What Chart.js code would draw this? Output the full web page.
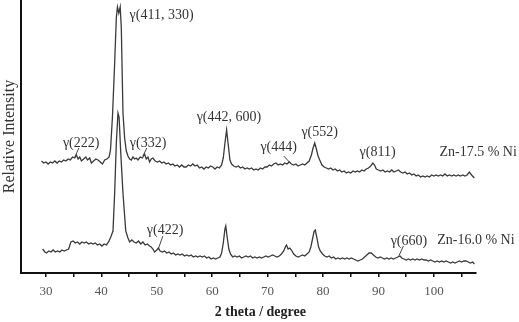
<!DOCTYPE html>
<html><head><meta charset="utf-8">
<script src="https://cdn.jsdelivr.net/npm/chart.js@4/dist/chart.umd.min.js"></script>
<style>html,body{margin:0;padding:0;background:#fff}canvas{display:block}</style>
</head><body>
<canvas id="c" width="519" height="322"></canvas>
<script>
// Upper pattern: Zn-17.5 % Ni
const upperTheta = [29.2,29.6,30.0,30.4,30.8,31.2,31.6,32.0,32.4,32.8,33.2,33.6,34.0,34.4,34.8,35.2,35.5,35.8,36.1,36.4,36.8,37.2,37.5,37.9,38.2,38.6,39.0,39.4,39.8,40.2,40.6,41.0,41.4,41.65,42.0,42.4,42.7,42.9,43.15,43.4,43.6,43.9,44.2,44.5,44.8,45.1,45.4,45.7,46.0,46.3,46.6,47.0,47.4,47.8,48.1,48.4,48.7,49.0,49.3,49.7,50.1,50.5,50.9,51.3,51.7,52.1,52.5,52.9,53.3,53.7,54.1,54.5,54.9,55.3,55.7,56.1,56.5,56.9,57.3,57.7,58.1,58.5,58.9,59.3,59.7,60.1,60.5,60.9,61.3,61.7,62.0,62.3,62.6,62.9,63.2,63.5,63.9,64.3,64.7,65.1,65.5,65.9,66.3,66.7,67.1,67.5,67.9,68.3,68.7,69.1,69.5,69.9,70.3,70.7,71.1,71.5,71.9,72.3,72.7,73.1,73.5,73.9,74.3,74.7,75.1,75.5,75.9,76.3,76.7,77.1,77.5,77.9,78.2,78.5,78.8,79.1,79.4,79.8,80.2,80.6,81.0,81.4,81.8,82.2,82.6,83.0,83.4,83.8,84.2,84.6,85.0,85.4,85.8,86.2,86.6,87.0,87.4,87.8,88.2,88.6,89.0,89.3,89.6,90.0,90.4,90.8,91.2,91.6,92.0,92.4,92.8,93.2,93.6,94.0,94.4,94.8,95.2,95.6,96.0,96.4,96.8,97.2,97.6,98.0,98.4,98.8,99.2,99.6,100.0,100.4,100.8,101.2,101.6,102.0,102.4,102.8,103.2,103.6,104.0,104.4,104.8,105.2,105.6,106.0,106.4,106.8,107.3];
const upperIntensity = [112,110,111,109,111,110,112,110,112,111,113,112,114,113,116,115,118,114,116,112,114,116,113,115,110,112,114,113,111,109,113,114,116,123,156,210,255,266,260,266,245,160,135,122,117,114,113,116,114,115,113,116,115,119,114,116,111,114,115,112,111,112,110,111,109,110,108,109,107,108,106,108,106,106,108,107,109,107,108,105,106,104,106,105,107,106,104,106,105,108,115,130,143,128,113,109,107,106,107,105,106,104,105,104,105,103,104,103,105,104,106,106,108,107,109,110,108,109,108,110,109,111,109,108,109,107,108,109,108,110,112,118,125,130,124,117,113,108,106,105,104,105,103,104,102,103,101,102,100,101,100,102,101,102,101,103,102,104,105,107,110,108,104,103,102,103,101,102,101,103,101,102,103,101,100,101,99,100,98,99,97,98,96,97,96,97,96,98,97,98,97,98,97,99,97,98,97,98,97,98,97,98,97,98,101,98,95];
// Lower pattern: Zn-16.0 % Ni
const lowerTheta = [29.4,29.8,30.1,30.5,30.9,31.3,31.7,32.1,32.5,32.9,33.3,33.7,34.1,34.5,34.9,35.3,35.7,36.1,36.5,36.9,37.3,37.7,38.1,38.5,38.9,39.3,39.7,40.1,40.5,40.9,41.3,41.7,42.1,42.4,42.7,43.0,43.2,43.5,43.9,44.4,44.8,45.1,45.5,45.9,46.3,46.7,47.1,47.5,47.9,48.3,48.7,49.0,49.3,49.6,50.0,50.3,50.6,51.0,51.4,51.8,52.2,52.6,53.0,53.4,53.8,54.2,54.6,55.0,55.4,55.8,56.2,56.6,57.0,57.4,57.8,58.2,58.6,59.0,59.4,59.8,60.2,60.6,61.0,61.4,61.7,62.0,62.3,62.45,62.7,63.0,63.3,63.7,64.1,64.5,64.9,65.3,65.7,66.1,66.5,66.9,67.3,67.7,68.1,68.5,68.9,69.3,69.7,70.1,70.5,70.9,71.3,71.7,72.1,72.5,72.9,73.2,73.4,73.7,74.0,74.3,74.7,75.1,75.5,75.9,76.3,76.7,77.1,77.5,77.8,78.1,78.4,78.6,78.9,79.2,79.5,79.9,80.3,80.7,81.1,81.5,81.9,82.3,82.7,83.1,83.5,83.9,84.3,84.7,85.1,85.5,85.9,86.3,86.7,87.1,87.5,87.9,88.3,88.7,89.1,89.5,89.9,90.3,90.7,91.1,91.5,91.9,92.3,92.7,93.1,93.5,93.9,94.2,94.6,95.0,95.4,95.8,96.2,96.6,97.0,97.4,97.8,98.2,98.6,99.0,99.4,99.8,100.2,100.6,101.0,101.4,101.8,102.2,102.6,103.0,103.4,103.8,104.2,104.6,105.0,105.4,105.8,106.2,106.6,107.0,107.3];
const lowerIntensity = [24,21,20,22,21,23,21,22,21,23,22,23,24,31,32,30,31,29,31,30,31,29,30,29,30,28,29,27,29,28,31,36,42,80,130,160,156,120,80,42,35,31,33,31,30,32,29,31,28,29,27,26,24,21,23,25,22,21,22,20,21,19,20,18,19,18,19,17,18,17,18,16,17,16,17,16,17,15,16,14,15,14,15,16,20,30,44,47,36,24,19,16,17,16,17,15,16,17,16,17,15,16,15,16,15,16,17,16,17,18,17,16,17,19,22,26,28,24,25,23,19,17,16,17,18,17,19,21,26,34,42,43,35,26,22,19,17,16,17,15,16,14,15,14,15,14,15,14,15,14,13,12,13,14,16,18,20,20,18,16,15,16,15,14,15,14,15,14,15,16,17,15,14,13,14,13,14,13,14,13,14,13,13,12,13,12,11,12,11,12,11,12,11,10,11,10,11,12,11,12,12,11,10,11,9];
const xTickValues = [30,35,40,45,50,55,60,65,70,75,80,85,90,95,100,105];
const xTickLabels = ['30','','40','','50','','60','','70','','80','','90','','100',''];
const peakLabels = ['γ(411, 330)','γ(222)','γ(332)','γ(442, 600)','γ(444)','γ(552)','γ(811)','Zn-17.5 % Ni','γ(422)','γ(660)','Zn-16.0 % Ni'];

const annotItems = [
  {t:0, x:45.1, y:258},
  {t:1, x:33.06, y:130, lead:[35.95,125,35.2,116]},
  {t:2, x:45.14, y:130, lead:[48.2,125,47.5,117]},
  {t:3, x:57.2, y:156},
  {t:4, x:68.7, y:126, lead:[72.9,117,74.1,110]},
  {t:5, x:76.1, y:141},
  {t:6, x:86.6, y:121},
  {t:7, x:101.0, y:121},
  {t:8, x:48.2, y:43, lead:[51.1,37,50.2,23]},
  {t:9, x:92.2, y:32, lead:[94.5,27,93.6,16]},
  {t:10, x:100.6, y:33}
];

const annotPlugin = {
  id: 'annot',
  afterDraw(chart) {
    const {ctx, scales: {x, y}, chartArea} = chart;
    ctx.save();
    ctx.fillStyle = '#333';
    ctx.strokeStyle = '#444';
    ctx.lineWidth = 1;
    ctx.font = '14px "Liberation Serif", "Times New Roman", serif';
    ctx.textAlign = 'left';
    ctx.textBaseline = 'middle';
    annotItems.forEach(a => {
      ctx.fillText(peakLabels[a.t], x.getPixelForValue(a.x), y.getPixelForValue(a.y));
      if (a.lead) {
        ctx.beginPath();
        ctx.moveTo(x.getPixelForValue(a.lead[0]), y.getPixelForValue(a.lead[1]));
        ctx.lineTo(x.getPixelForValue(a.lead[2]), y.getPixelForValue(a.lead[3]));
        ctx.stroke();
      }
    });
    // x axis title
    ctx.fillStyle = '#222';
    ctx.font = 'bold 14px "Liberation Serif", "Times New Roman", serif';
    ctx.textAlign = 'center';
    ctx.fillText('2 theta / degree', x.getPixelForValue(68.7), chartArea.bottom + 39);
    ctx.restore();
  }
};

const toPts = (xs, ys) => xs.map((v, i) => ({x: v, y: ys[i]}));

new Chart(document.getElementById('c'), {
  type: 'line',
  data: {
    datasets: [
      {label: 'Zn-17.5 % Ni', data: toPts(upperTheta, upperIntensity), borderColor: '#3a3a3a', borderWidth: 1.3, pointRadius: 0, tension: 0, fill: false},
      {label: 'Zn-16.0 % Ni', data: toPts(lowerTheta, lowerIntensity), borderColor: '#3a3a3a', borderWidth: 1.3, pointRadius: 0, tension: 0, fill: false}
    ]
  },
  options: {
    responsive: false,
    animation: false,
    devicePixelRatio: 1,
    layout: {padding: {left: 0, right: 43, top: 0, bottom: 0}},
    plugins: {legend: {display: false}, tooltip: {enabled: false}},
    scales: {
      x: {
        type: 'linear',
        min: 25.5,
        max: 107.6,
        afterBuildTicks: s => { s.ticks = xTickValues.map(v => ({value: v})); },
        afterFit: s => { s.height = 49; },
        ticks: {
          autoSkip: false,
          maxRotation: 0,
          padding: 7,
          color: '#555',
          font: {family: '"Liberation Serif", "Times New Roman", serif', size: 13},
          callback: (v, i) => xTickLabels[i]
        },
        grid: {display: true, drawOnChartArea: false, drawTicks: true, tickLength: 4, color: '#111', lineWidth: 1.5},
        border: {display: true, color: '#111', width: 2}
      },
      y: {
        type: 'linear',
        min: 0,
        max: 273,
        afterFit: s => { s.width = 21; },
        ticks: {display: false},
        grid: {display: true, drawOnChartArea: false, drawTicks: false},
        border: {display: true, color: '#111', width: 2},
        title: {
          display: true,
          text: 'Relative Intensity',
          color: '#333',
          padding: {top: 0, bottom: 0},
          font: {family: '"Liberation Serif", "Times New Roman", serif', size: 16}
        }
      }
    }
  },
  plugins: [annotPlugin]
});
</script>
</body></html>
